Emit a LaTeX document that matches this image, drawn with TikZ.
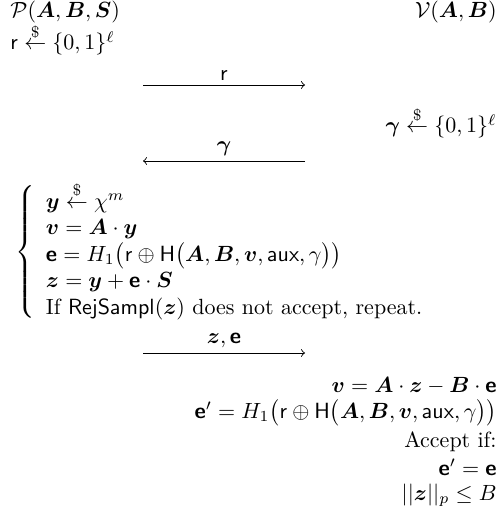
\documentclass[tikz,border=0pt]{standalone}
\usepackage{amsmath}
\usepackage{amssymb}
\usepackage{bm}
\usetikzlibrary{positioning}
\tikzset{
  txt/.style={inner sep=0pt},
  msg/.style={->, thin},
  msglabel/.style={above=2pt, inner sep=0pt}
}

\begin{document}
\begin{tikzpicture}[x=0.4545pt,y=-0.4545pt]
  \useasboundingbox (0,0) rectangle (499,516);
  \node[txt,anchor=base west] (prover) at (10,18) {$\mathcal{P}(\bm{A},\bm{B},\bm{S})$};
  \node[txt,anchor=base east] (verifier) at (497,18) {$\mathcal{V}(\bm{A},\bm{B})$};
  \node[txt,anchor=base west] (rsample) at (10,50) {$\mathsf{r}\stackrel{\$}{\leftarrow}\{0,1\}^\ell$};
  \coordinate (r0) at (143,85);
  \coordinate (r1) at (305,85);
  \draw[msg] (r0) -- (r1) node[midway,msglabel] (rlabel) {$\mathsf{r}$};
  \node[txt,anchor=base east] (gsample) at (497,133) {$\bm{\gamma}\stackrel{\$}{\leftarrow}\{0,1\}^\ell$};
  \coordinate (g0) at (305,161);
  \coordinate (g1) at (143,161);
  \draw[msg] (g0) -- (g1) node[midway,msglabel] (glabel) {$\bm{\gamma}$};
  \node[txt,anchor=west] (commit) at (15,252) {$\left\{\begin{array}{l}
    \bm{y}\stackrel{\$}{\leftarrow}\chi^m\\
    \bm{v}=\bm{A}\cdot\bm{y}\\
    \bm{\mathsf{e}}=H_1\big(\mathsf{r}\oplus\mathsf{H}\big(\bm{A},\bm{B},\bm{v},\mathsf{aux},\gamma\big)\big)\\
    \bm{z}=\bm{y}+\bm{\mathsf{e}}\cdot\bm{S}\\
    \text{If }\mathsf{RejSampl}(\bm{z})\text{ does not accept, repeat.}
  \end{array}\right.$};
  \coordinate (z0) at (143,353);
  \coordinate (z1) at (305,353);
  \draw[msg] (z0) -- (z1) node[midway,msglabel] (zlabel) {$\bm{z},\bm{\mathsf{e}}$};
  \node[txt,anchor=base east] (vcheck) at (497,392) {$\bm{v}=\bm{A}\cdot\bm{z}-\bm{B}\cdot\bm{\mathsf{e}}$};
  \node[txt,anchor=base east] (echeck) at (497,418) {$\bm{\mathsf{e}}'=H_1\big(\mathsf{r}\oplus\mathsf{H}\big(\bm{A},\bm{B},\bm{v},\mathsf{aux},\gamma\big)\big)$};
  \node[txt,anchor=base east] (accept) at (497,447) {Accept if:};
  \node[txt,anchor=base east] (eeq) at (497,475) {$\bm{\mathsf{e}}'=\bm{\mathsf{e}}$};
  \node[txt,anchor=base east] (norm) at (497,500) {$||\bm{z}||_p\leq B$};
\end{tikzpicture}
\end{document}
